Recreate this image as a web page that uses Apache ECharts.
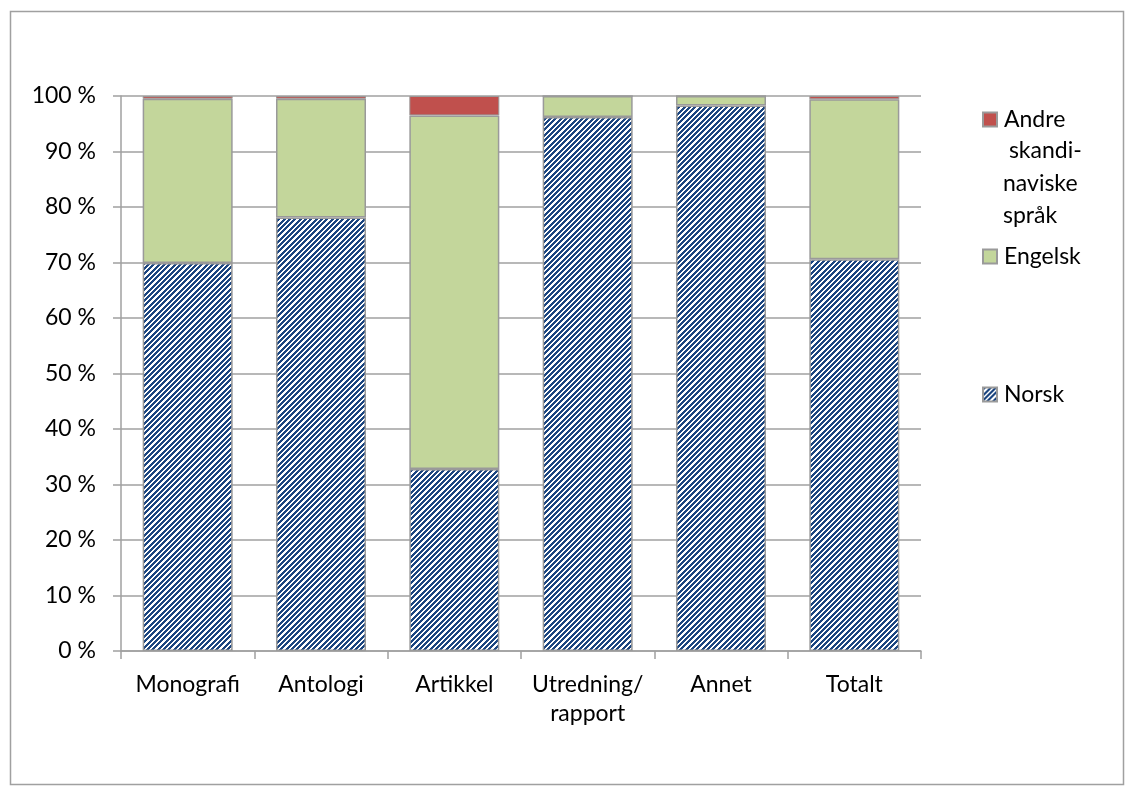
<!DOCTYPE html>
<html>
<head>
<meta charset="utf-8">
<script src="https://cdn.jsdelivr.net/npm/echarts@6/dist/echarts.min.js"></script>
<style>
  html, body { margin: 0; padding: 0; background: #fff; }
  #chart { width: 1130px; height: 791px; }
</style>
</head>
<body>
<div id="chart"></div>
<script>
// ---- data ----
const categories = ['Monografi', 'Antologi', 'Artikkel', 'Utredning/\nrapport', 'Annet', 'Totalt'];
const norsk   = [69.9, 78.1, 32.8, 96.2, 98.3, 70.6];
const engelsk = [29.6, 21.4, 63.7,  3.8,  1.7, 28.8];
const andre   = [ 0.5,  0.5,  3.5,  0.0,  0.0,  0.6];
const seriesNames = ['Norsk', 'Engelsk', 'Andre skandinaviske språk'];
const yTicks = [0, 10, 20, 30, 40, 50, 60, 70, 80, 90, 100];
const legendExtraLines = [' skandi-', 'naviske', 'språk'];

// ---- hatch pattern for Norsk ----
function makeHatch() {
  const size = 16, period = 16 / 3;
  const c = document.createElement('canvas');
  c.width = size; c.height = size;
  const ctx = c.getContext('2d');
  ctx.fillStyle = '#ffffff';
  ctx.fillRect(0, 0, size, size);
  ctx.fillStyle = '#1B4580';
  for (let y = 0; y < size; y++) {
    for (let x = 0; x < size; x++) {
      const v = ((x + y) % period + period) % period;
      if (v < period * 0.56) ctx.fillRect(x, y, 1, 1);
    }
  }
  return c;
}
const hatch = { image: makeHatch(), repeat: 'repeat' };

const FONT = 'Lato';
const border = '#9a9a9a';

const chart = echarts.init(document.getElementById('chart'), null, { renderer: 'canvas' });

const legendBase = {
  orient: 'vertical',
  left: 982,
  padding: 0,
  itemWidth: 14,
  itemHeight: 14,
  itemGap: 0,
  icon: 'rect',
  selectedMode: false,
  textStyle: { fontFamily: FONT, fontSize: 23, color: '#000', lineHeight: 20, padding: [0, 0, 0, 2] }
};

const option = {
  backgroundColor: '#fff',
  animation: false,
  grid: { left: 121, top: 96, right: 209, bottom: 140, containLabel: false },
  legend: [
    Object.assign({}, legendBase, { top: 108, data: [seriesNames[2]], formatter: () => 'Andre' }),
    Object.assign({}, legendBase, { top: 245, data: [seriesNames[1]] }),
    Object.assign({}, legendBase, { top: 383, data: [seriesNames[0]] })
  ],
  graphic: [
    { type: 'rect', left: 8, top: 9, shape: { width: 1113, height: 773 }, style: { fill: 'none', stroke: '#a0a0a0', lineWidth: 1.5 }, silent: true },
    { type: 'text', left: 1003, top: 139, style: { text: legendExtraLines[0], font: '23px ' + FONT, fill: '#000' }, silent: true },
    { type: 'text', left: 1003, top: 172, style: { text: legendExtraLines[1], font: '23px ' + FONT, fill: '#000' }, silent: true },
    { type: 'text', left: 1003, top: 204, style: { text: legendExtraLines[2], font: '23px ' + FONT, fill: '#000' }, silent: true }
  ],
  xAxis: {
    type: 'category',
    data: categories,
    axisLine: { show: true, lineStyle: { color: '#a0a0a0', width: 1.5 } },
    axisTick: { show: true, length: 8, lineStyle: { color: '#a0a0a0', width: 1.5 } },
    axisLabel: { fontFamily: FONT, fontSize: 23, color: '#000', margin: 19, lineHeight: 29, interval: 0 }
  },
  yAxis: {
    type: 'value',
    min: 0, max: 100, interval: 10,
    axisLine: { show: true, lineStyle: { color: '#a0a0a0', width: 1.5 } },
    axisTick: { show: true, length: 8, lineStyle: { color: '#a0a0a0', width: 1.5 } },
    axisLabel: {
      fontFamily: FONT, fontSize: 23, color: '#000', margin: 25,
      formatter: v => (yTicks.indexOf(v) >= 0 ? v + ' %' : '')
    },
    splitLine: { show: true, lineStyle: { color: '#a0a0a0', width: 1.5 } }
  },
  series: [
    { name: seriesNames[0], type: 'bar', stack: 'all', data: norsk, barCategoryGap: '32.5%',
      itemStyle: { color: hatch, borderColor: border, borderWidth: 1.5 } },
    { name: seriesNames[1], type: 'bar', stack: 'all', data: engelsk,
      itemStyle: { color: '#C3D69B', borderColor: border, borderWidth: 1.5 } },
    { name: seriesNames[2], type: 'bar', stack: 'all', data: andre,
      itemStyle: { color: '#C0504D', borderColor: border, borderWidth: 1 } }
  ]
};
chart.setOption(option);
</script>
</body>
</html>
